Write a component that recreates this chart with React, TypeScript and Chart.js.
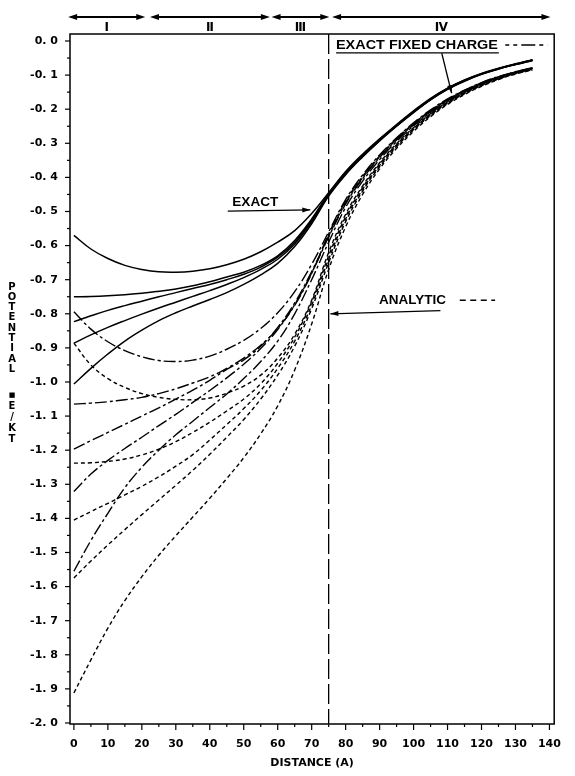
import React, { useEffect, useRef } from 'react';
import { Chart, registerables } from 'chart.js';

Chart.register(...registerables);

// ---------------- DATA ----------------
const DISTANCE = [0, 5, 10, 15, 20, 25, 30, 35, 40, 45, 50, 55, 60, 65, 70, 75, 80, 85, 90, 95, 100, 105, 110, 115, 120, 125, 130, 135];

// EXACT (solid)
const EXACT_1 = [-0.570, -0.610, -0.638, -0.658, -0.670, -0.677, -0.678, -0.675, -0.668, -0.656, -0.640, -0.618, -0.590, -0.556, -0.506, -0.445, -0.383, -0.332, -0.287, -0.245, -0.205, -0.168, -0.138, -0.114, -0.095, -0.080, -0.067, -0.055];
const EXACT_2 = [-0.750, -0.749, -0.747, -0.744, -0.740, -0.734, -0.727, -0.718, -0.706, -0.692, -0.678, -0.658, -0.630, -0.585, -0.522, -0.448, -0.386, -0.334, -0.289, -0.247, -0.207, -0.170, -0.139, -0.115, -0.096, -0.081, -0.068, -0.056];
const EXACT_3 = [-0.823, -0.806, -0.790, -0.776, -0.763, -0.750, -0.738, -0.726, -0.714, -0.700, -0.684, -0.663, -0.634, -0.590, -0.526, -0.450, -0.388, -0.336, -0.290, -0.248, -0.208, -0.171, -0.140, -0.116, -0.097, -0.081, -0.068, -0.056];
const EXACT_4 = [-0.886, -0.862, -0.840, -0.820, -0.801, -0.783, -0.766, -0.749, -0.732, -0.714, -0.694, -0.670, -0.640, -0.595, -0.530, -0.452, -0.390, -0.338, -0.292, -0.249, -0.209, -0.172, -0.141, -0.117, -0.097, -0.082, -0.069, -0.057];
const EXACT_5 = [-1.006, -0.960, -0.918, -0.880, -0.848, -0.820, -0.797, -0.777, -0.758, -0.738, -0.714, -0.686, -0.652, -0.603, -0.536, -0.455, -0.392, -0.340, -0.293, -0.250, -0.210, -0.173, -0.142, -0.118, -0.098, -0.082, -0.069, -0.057];

// EXACT FIXED CHARGE (dash-dot)
const FIXED_1 = [-0.794, -0.845, -0.882, -0.908, -0.926, -0.937, -0.940, -0.936, -0.924, -0.904, -0.878, -0.843, -0.797, -0.735, -0.655, -0.560, -0.465, -0.393, -0.334, -0.284, -0.240, -0.202, -0.170, -0.144, -0.122, -0.104, -0.090, -0.078];
const FIXED_2 = [-1.065, -1.062, -1.058, -1.052, -1.045, -1.034, -1.020, -1.003, -0.985, -0.960, -0.930, -0.892, -0.843, -0.775, -0.682, -0.566, -0.470, -0.397, -0.337, -0.286, -0.242, -0.204, -0.172, -0.145, -0.123, -0.105, -0.091, -0.079];
const FIXED_3 = [-1.197, -1.172, -1.148, -1.124, -1.100, -1.076, -1.050, -1.024, -0.995, -0.963, -0.935, -0.895, -0.840, -0.768, -0.676, -0.572, -0.475, -0.401, -0.340, -0.289, -0.244, -0.206, -0.173, -0.146, -0.124, -0.106, -0.091, -0.079];
const FIXED_4 = [-1.321, -1.270, -1.230, -1.195, -1.162, -1.128, -1.095, -1.060, -1.025, -0.988, -0.948, -0.902, -0.846, -0.773, -0.680, -0.575, -0.478, -0.404, -0.342, -0.290, -0.246, -0.207, -0.174, -0.147, -0.125, -0.106, -0.092, -0.080];
const FIXED_5 = [-1.555, -1.465, -1.385, -1.310, -1.250, -1.200, -1.155, -1.115, -1.075, -1.035, -0.990, -0.940, -0.880, -0.800, -0.700, -0.590, -0.488, -0.411, -0.348, -0.295, -0.249, -0.210, -0.176, -0.149, -0.126, -0.107, -0.093, -0.080];

// ANALYTIC (dashed)
const ANALYTIC_1 = [-0.886, -0.950, -0.990, -1.016, -1.034, -1.045, -1.051, -1.052, -1.047, -1.033, -1.012, -0.980, -0.930, -0.860, -0.760, -0.620, -0.508, -0.425, -0.357, -0.301, -0.254, -0.213, -0.179, -0.151, -0.128, -0.109, -0.094, -0.081];
const ANALYTIC_2 = [-1.238, -1.237, -1.233, -1.226, -1.214, -1.197, -1.175, -1.148, -1.118, -1.085, -1.050, -1.005, -0.945, -0.868, -0.765, -0.630, -0.515, -0.430, -0.361, -0.304, -0.256, -0.215, -0.180, -0.152, -0.129, -0.110, -0.095, -0.082];
const ANALYTIC_3 = [-1.405, -1.380, -1.356, -1.331, -1.306, -1.278, -1.247, -1.213, -1.170, -1.125, -1.078, -1.025, -0.960, -0.880, -0.775, -0.640, -0.522, -0.435, -0.365, -0.307, -0.259, -0.217, -0.182, -0.154, -0.130, -0.111, -0.095, -0.083];
const ANALYTIC_4 = [-1.575, -1.525, -1.478, -1.433, -1.389, -1.346, -1.303, -1.259, -1.212, -1.162, -1.110, -1.050, -0.980, -0.895, -0.785, -0.650, -0.530, -0.440, -0.369, -0.310, -0.261, -0.219, -0.184, -0.155, -0.131, -0.112, -0.096, -0.084];
const ANALYTIC_5 = [-1.912, -1.815, -1.722, -1.641, -1.571, -1.508, -1.451, -1.396, -1.341, -1.283, -1.222, -1.152, -1.070, -0.965, -0.830, -0.670, -0.545, -0.450, -0.375, -0.315, -0.265, -0.222, -0.186, -0.157, -0.133, -0.113, -0.097, -0.085];

const EXACT_SERIES = [EXACT_1, EXACT_2, EXACT_3, EXACT_4, EXACT_5];
const FIXED_SERIES = [FIXED_1, FIXED_2, FIXED_3, FIXED_4, FIXED_5];
const ANALYTIC_SERIES = [ANALYTIC_1, ANALYTIC_2, ANALYTIC_3, ANALYTIC_4, ANALYTIC_5];

const BOUNDARY_X = 75;
const REGION_LABELS = ['Ⅰ', 'Ⅱ', 'Ⅲ', 'Ⅳ'];
const REGION_STARTS = [-1.7, 22.4, 58.2, 76.0];
const REGION_ENDS = [21.0, 57.7, 75.2, 140.3];

const X_TITLE = 'DISTANCE (A)';
const Y_TITLE_1 = 'POTENTIAL';
const Y_TITLE_2 = '■E/KT';
const LABEL_FIXED = 'EXACT FIXED CHARGE';
const LABEL_EXACT = 'EXACT';
const LABEL_ANALYTIC = 'ANALYTIC';

// ---------------- LAYOUT / STYLE ----------------
const W = 575;
const H = 776;
const FIXED_DASH = [12, 3, 3, 3];
const ANALYTIC_DASH = [4, 3];

// annotation geometry (data coordinates)
const NOTES = {
  fixed: { cx: 101.0, y: -0.012, width: 162, ulX0: 77.2, ulX1: 125.1, ulY: -0.035, arX0: 108.3, arY0: -0.036, arX1: 111.2, arY1: -0.153, smX0: 127.0, smX1: 139.4 },
  exact: { cx: 53.4, y: -0.474, width: 46, arX0: 45.3, arY0: -0.499, arX1: 69.6, arY1: -0.495 },
  analytic: { cx: 99.7, y: -0.760, width: 67, arX0: 107.9, arY0: -0.791, arX1: 75.5, arY1: -0.80, smX0: 113.6, smX1: 124.0 },
};

const TICK_FONT = { family: '"DejaVu Sans"', size: 11, weight: 'bold' as const };

function fitText(ctx: CanvasRenderingContext2D, text: string, cx: number, cy: number, width: number, font: string) {
  ctx.save();
  ctx.font = font;
  ctx.textAlign = 'center';
  ctx.textBaseline = 'middle';
  const w = ctx.measureText(text).width;
  ctx.translate(cx, cy);
  ctx.scale(width / w, 1);
  ctx.fillText(text, 0, 0);
  ctx.restore();
}

function arrowHead(ctx: CanvasRenderingContext2D, x1: number, y1: number, x2: number, y2: number, len: number, half: number) {
  const a = Math.atan2(y2 - y1, x2 - x1);
  const bx = x2 - len * Math.cos(a);
  const by = y2 - len * Math.sin(a);
  ctx.beginPath();
  ctx.moveTo(x2, y2);
  ctx.lineTo(bx + half * Math.sin(a), by - half * Math.cos(a));
  ctx.lineTo(bx - half * Math.sin(a), by + half * Math.cos(a));
  ctx.closePath();
  ctx.fill();
}

function arrow(ctx: CanvasRenderingContext2D, x1: number, y1: number, x2: number, y2: number) {
  ctx.setLineDash([]);
  ctx.beginPath();
  ctx.moveTo(x1, y1);
  ctx.lineTo(x2, y2);
  ctx.stroke();
  arrowHead(ctx, x1, y1, x2, y2, 8, 2.5);
}

const overlay = {
  id: 'overlay',
  beforeDraw(chart: any) {
    const ctx = chart.ctx;
    ctx.save();
    ctx.fillStyle = '#fff';
    ctx.fillRect(0, 0, chart.width, chart.height);
    ctx.restore();
  },
  afterDraw(chart: any) {
    const { ctx, chartArea: a } = chart;
    const xs = chart.scales.x;
    const ys = chart.scales.y;
    const px = (v: number) => xs.getPixelForValue(v);
    const py = (v: number) => ys.getPixelForValue(v);
    ctx.save();
    ctx.strokeStyle = '#000';
    ctx.fillStyle = '#000';

    // frame
    ctx.lineWidth = 1.5;
    ctx.setLineDash([]);
    ctx.strokeRect(a.left, a.top, a.right - a.left, a.bottom - a.top);

    // ticks
    ctx.lineWidth = 1.2;
    const yt = ys.ticks.map((t: any) => t.value);
    yt.forEach((v: number, i: number) => {
      const y = py(v);
      ctx.beginPath(); ctx.moveTo(a.left - 5, y); ctx.lineTo(a.left, y); ctx.stroke();
      if (i < yt.length - 1) {
        const ym = py((v + yt[i + 1]) / 2);
        ctx.beginPath(); ctx.moveTo(a.left - 3, ym); ctx.lineTo(a.left, ym); ctx.stroke();
      }
    });
    const xt = xs.ticks.map((t: any) => t.value);
    xt.forEach((v: number, i: number) => {
      const x = px(v);
      ctx.beginPath(); ctx.moveTo(x, a.bottom); ctx.lineTo(x, a.bottom + 6); ctx.stroke();
      if (i < xt.length - 1) {
        const xm = px((v + xt[i + 1]) / 2);
        ctx.beginPath(); ctx.moveTo(xm, a.bottom); ctx.lineTo(xm, a.bottom + 3); ctx.stroke();
      }
    });

    // boundary line
    ctx.lineWidth = 1.3;
    ctx.setLineDash([20, 5]);
    ctx.beginPath();
    ctx.moveTo(px(BOUNDARY_X), a.top);
    ctx.lineTo(px(BOUNDARY_X), a.bottom);
    ctx.stroke();
    ctx.setLineDash([]);

    // region arrows
    ctx.lineWidth = 1.8;
    REGION_LABELS.forEach((lab, i) => {
      const x0 = px(REGION_STARTS[i]);
      const x1 = px(REGION_ENDS[i]);
      const y = 17;
      ctx.beginPath(); ctx.moveTo(x0 + 4, y); ctx.lineTo(x1 - 4, y); ctx.stroke();
      arrowHead(ctx, x1, y, x0, y, 9, 3);
      arrowHead(ctx, x0, y, x1, y, 9, 3);
      ctx.font = 'bold 12px "DejaVu Sans"';
      ctx.textAlign = 'center';
      ctx.textBaseline = 'middle';
      ctx.fillText(lab, (x0 + x1) / 2, 28);
    });

    // y-axis title (stacked letters)
    ctx.textAlign = 'center';
    ctx.textBaseline = 'middle';
    ctx.font = 'bold 10px "DejaVu Sans"';
    Y_TITLE_1.split('').forEach((ch, i) => ctx.fillText(ch, 12, 287 + i * 10.3));
    Y_TITLE_2.split('').forEach((ch, i) => {
      ctx.font = ch === '■' ? 'bold 7px "DejaVu Sans"' : 'bold 10px "DejaVu Sans"';
      ctx.fillText(ch, 12, 395 + i * 11);
    });

    const noteFont = 'bold 13px "Liberation Sans"';
    ctx.lineWidth = 1.3;

    // EXACT FIXED CHARGE
    const f = NOTES.fixed;
    fitText(ctx, LABEL_FIXED, px(f.cx), py(f.y), f.width, noteFont);
    ctx.beginPath(); ctx.moveTo(px(f.ulX0), py(f.ulY)); ctx.lineTo(px(f.ulX1), py(f.ulY)); ctx.stroke();
    arrow(ctx, px(f.arX0), py(f.arY0), px(f.arX1), py(f.arY1));
    ctx.lineWidth = 1.5;
    ctx.setLineDash([4, 4, 4, 4, 14, 4]);
    ctx.beginPath(); ctx.moveTo(px(f.smX0), py(f.y)); ctx.lineTo(px(f.smX1), py(f.y)); ctx.stroke();
    ctx.setLineDash([]);

    // EXACT
    ctx.lineWidth = 1.3;
    const e = NOTES.exact;
    fitText(ctx, LABEL_EXACT, px(e.cx), py(e.y), e.width, noteFont);
    arrow(ctx, px(e.arX0), py(e.arY0), px(e.arX1), py(e.arY1));

    // ANALYTIC
    const n = NOTES.analytic;
    fitText(ctx, LABEL_ANALYTIC, px(n.cx), py(n.y), n.width, noteFont);
    arrow(ctx, px(n.arX0), py(n.arY0), px(n.arX1), py(n.arY1));
    ctx.lineWidth = 1.5;
    ctx.setLineDash([6, 4.5]);
    ctx.beginPath(); ctx.moveTo(px(n.smX0), py(n.y)); ctx.lineTo(px(n.smX1), py(n.y)); ctx.stroke();
    ctx.setLineDash([]);

    ctx.restore();
  },
};

function makeSet(vals: number[], dash: number[], width: number) {
  return {
    data: DISTANCE.map((d, i) => ({ x: d, y: vals[i] })),
    borderColor: '#000',
    borderWidth: width,
    borderDash: dash,
    tension: 0.4,
    pointRadius: 0,
    fill: false,
  };
}

export default function App() {
  const ref = useRef<HTMLCanvasElement>(null);
  useEffect(() => {
    if (!ref.current) return;
    const chart = new Chart(ref.current, {
      type: 'line',
      data: {
        datasets: [
          ...EXACT_SERIES.map((s) => makeSet(s, [], 1.5)),
          ...FIXED_SERIES.map((s) => makeSet(s, FIXED_DASH, 1.4)),
          ...ANALYTIC_SERIES.map((s) => makeSet(s, ANALYTIC_DASH, 1.4)),
        ],
      },
      options: {
        responsive: false,
        animation: false,
        devicePixelRatio: 1,
        events: [],
        layout: { padding: { left: 0, right: 8, top: 34, bottom: 0 } },
        plugins: { legend: { display: false }, tooltip: { enabled: false } },
        scales: {
          x: {
            type: 'linear',
            min: -1.15,
            max: 141.4,
            afterFit: (s: any) => { s.height = 52; },
            grid: { drawOnChartArea: false, drawTicks: false },
            border: { display: false },
            ticks: {
              stepSize: 10,
              includeBounds: false,
              autoSkip: false,
              maxRotation: 0,
              padding: 14,
              color: '#000',
              font: TICK_FONT,
              callback: (v: any) => String(Math.round(Number(v))),
            },
            title: { display: true, text: X_TITLE, color: '#000', font: TICK_FONT, padding: { top: 0, bottom: 6 } },
          },
          y: {
            type: 'linear',
            min: -2.003,
            max: 0.0205,
            afterFit: (s: any) => { s.width = 70; },
            grid: { drawOnChartArea: false, drawTicks: false },
            border: { display: false },
            ticks: {
              stepSize: 0.1,
              includeBounds: false,
              autoSkip: false,
              padding: 12,
              color: '#000',
              font: TICK_FONT,
              callback: (v: any) => {
                const n = Number(v);
                const s = Math.abs(n) < 1e-9 ? '0.0' : n.toFixed(1);
                return s.replace('.', '. ');
              },
            },
          },
        },
      },
      plugins: [overlay],
    } as any);
    return () => chart.destroy();
  }, []);
  return (
    <div style={{ position: 'absolute', left: 0, top: 0, width: W, height: H, background: '#fff' }}>
      <canvas ref={ref} width={W} height={H} style={{ display: 'block', width: W, height: H }} />
    </div>
  );
}
